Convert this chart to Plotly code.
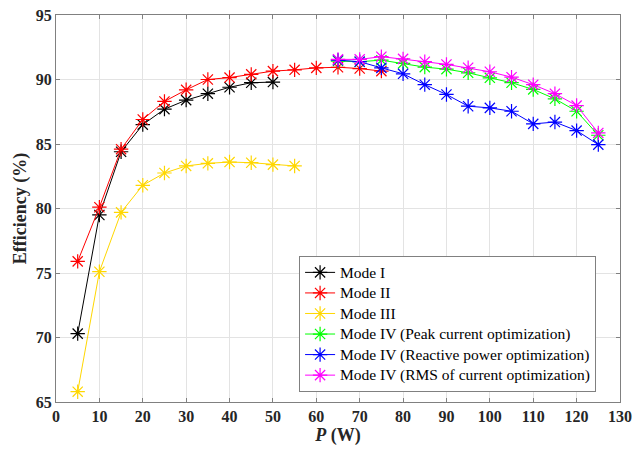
import plotly.graph_objects as go

x_mode1 = [5, 10, 15, 20, 25, 30, 35, 40, 45, 50]
y_mode1 = [70.3, 79.5, 84.4, 86.5, 87.7, 88.4, 88.9, 89.4, 89.75, 89.8]

x_mode2 = [5, 10, 15, 20, 25, 30, 35, 40, 45, 50, 55, 60, 65, 70, 75]
y_mode2 = [75.9, 80.1, 84.6, 86.9, 88.3, 89.2, 90.0, 90.15, 90.4, 90.65, 90.75, 90.9, 90.95, 90.85, 90.65]

x_mode3 = [5, 10, 15, 20, 25, 30, 35, 40, 45, 50, 55]
y_mode3 = [65.8, 75.1, 79.7, 81.8, 82.75, 83.3, 83.5, 83.6, 83.55, 83.4, 83.3]

x_mode4 = [65, 70, 75, 80, 85, 90, 95, 100, 105, 110, 115, 120, 125]
y_peak = [91.43, 91.38, 91.5, 91.25, 90.96, 90.8, 90.52, 90.13, 89.75, 89.23, 88.5, 87.54, 85.68]
y_reactive = [91.5, 91.38, 90.9, 90.44, 89.6, 88.84, 87.93, 87.8, 87.54, 86.56, 86.7, 86.04, 84.95]
y_rms = [91.56, 91.56, 91.77, 91.6, 91.38, 91.17, 90.91, 90.6, 90.18, 89.6, 88.9, 87.98, 85.86]

series_names = [
    "Mode I",
    "Mode II",
    "Mode III",
    "Mode IV (Peak current optimization)",
    "Mode IV (Reactive power optimization)",
    "Mode IV (RMS of current optimization)",
]
series_x = [x_mode1, x_mode2, x_mode3, x_mode4, x_mode4, x_mode4]
series_y = [y_mode1, y_mode2, y_mode3, y_peak, y_reactive, y_rms]
series_colors = ["#000000", "#FF0000", "#FFD700", "#00FF00", "#0000FF", "#FF00FF"]

fig = go.Figure()
for name, xs, ys, c in zip(series_names, series_x, series_y, series_colors):
    fig.add_trace(go.Scatter(
        x=xs, y=ys, name='<span style="font-size:15.5px">' + name + "</span>",
        mode="lines+markers",
        line=dict(color=c, width=1),
        marker=dict(symbol="asterisk-open", size=12, color=c,
                    line=dict(color=c, width=1.2)),
    ))

font_family = "Liberation Serif, Times New Roman, serif"
axis_common = dict(
    showgrid=True, gridcolor="#E3E3E3", gridwidth=1,
    showline=True, linecolor="#808080", linewidth=1, mirror="ticks",
    ticks="inside", ticklen=4, tickcolor="#808080",
    zeroline=False, automargin=False,
    tickfont=dict(family=font_family, size=16, color="#262626", weight="bold"),
)

fig.update_layout(
    width=635, height=453,
    margin=dict(l=56, r=15, t=15, b=51),
    paper_bgcolor="white", plot_bgcolor="white",
    font=dict(family=font_family, color="#262626"),
    xaxis=dict(range=[0, 130], dtick=10, tick0=0,
               title=dict(text="<b><i>P</i> (W)</b>", font=dict(family=font_family, size=18), standoff=4),
               **axis_common),
    yaxis=dict(range=[65, 95], dtick=5, tick0=65,
               title=dict(text="<b>Efficiency (%)</b>", font=dict(family=font_family, size=18), standoff=4),
               **axis_common),
    legend=dict(x=0.431, y=0.377, xanchor="left", yanchor="top",
                bgcolor="white", bordercolor="#808080", borderwidth=1,
                font=dict(family=font_family, size=13.5, color="#000000"),
                tracegroupgap=0, itemwidth=30),
    showlegend=True,
)

fig.write_html("out.html", config={"displayModeBar": False},
               post_script="document.body.style.margin='0px';")
